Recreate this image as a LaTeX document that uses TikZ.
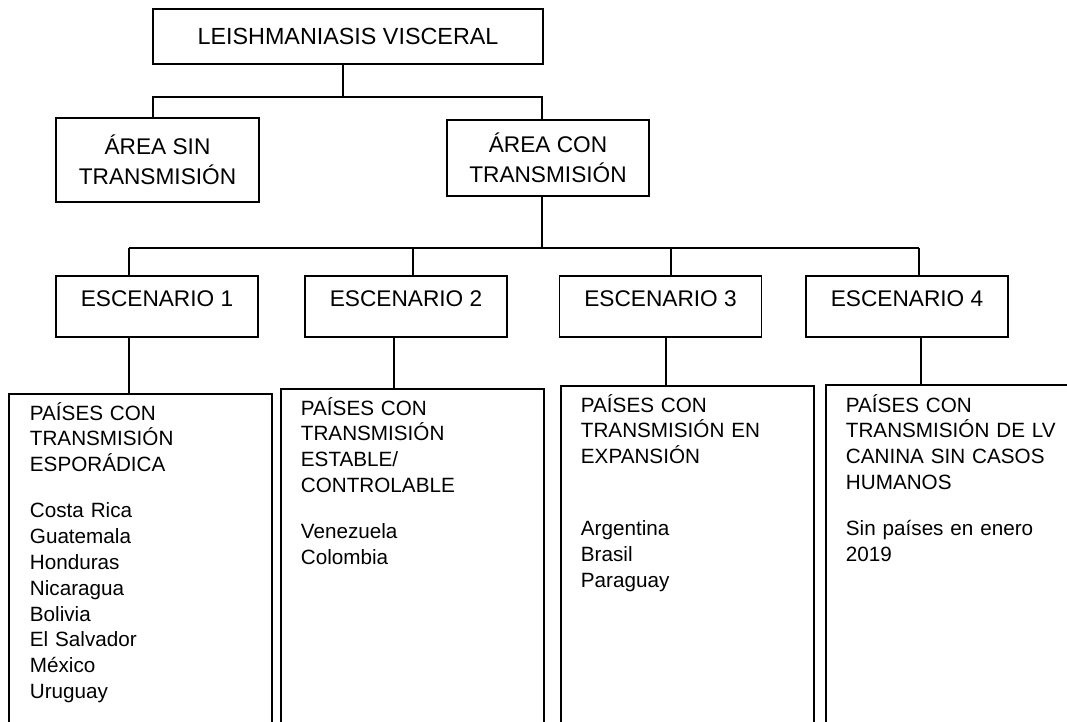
\documentclass[tikz,border=0pt]{standalone}
\usepackage{fontspec}
\setmainfont{Liberation Sans}
\begin{document}
\begin{tikzpicture}[
    x=0.75pt, y=-0.75pt,
    line width=1.4pt,
    box/.style={rectangle, draw, line width=1.4pt, inner sep=0pt, align=center, font=\fontsize{17}{22.5}\selectfont},
    titlebox/.style={box, minimum width=292.5pt, minimum height=41.25pt},
    areabox/.style={box, minimum width=152pt},
    scenebox/.style={box, minimum width=151.5pt, minimum height=45.75pt, text height=12pt, text depth=12pt},
    listbox/.style={rectangle, draw, line width=1.4pt, anchor=north west, minimum height=270pt},
    listtext/.style={anchor=base west, inner sep=0pt, text width=175pt, align=left, font=\fontsize{15.5}{19.4}\selectfont}
]

\clip (0,0) rectangle (1067,721);

\node[titlebox, font=\fontsize{17.5}{22.5}\selectfont] (top) at (348,36.5) {LEISHMANIASIS VISCERAL};

\node[areabox, minimum height=63pt] (sin) at (157.5,160) {ÁREA SIN\\TRANSMISIÓN};
\node[areabox, minimum height=57pt] (con) at (548,158) {ÁREA CON\\TRANSMISIÓN};

\node[scenebox] (esc1) at (157,306.5) {ESCENARIO 1};
\node[scenebox] (esc2) at (406,306.5) {ESCENARIO 2};
\node[scenebox] (esc3) at (660.5,306.5) {ESCENARIO 3};
\node[scenebox] (esc4) at (907,306.5) {ESCENARIO 4};

\node[listbox, minimum width=197pt] (list1) at (8,393) {};
\node[listbox, minimum width=197.25pt] (list2) at (280,388) {};
\node[listbox, minimum width=190pt] (list3) at (560,385) {};
\node[listbox, minimum width=200pt] (list4) at (825,384) {};

\node[listtext] (txt1) at (29,420) {PAÍSES CON\\TRANSMISIÓN\\ESPORÁDICA\\[15pt]
    Costa Rica\\Guatemala\\Honduras\\Nicaragua\\Bolivia\\El Salvador\\México\\Uruguay};
\node[listtext] (txt2) at (300,415) {PAÍSES CON\\TRANSMISIÓN\\ESTABLE/\\CONTROLABLE\\[15pt]
    Venezuela\\Colombia};
\node[listtext] (txt3) at (580,412) {PAÍSES CON\\TRANSMISIÓN EN\\EXPANSIÓN\\[34.5pt]
    Argentina\\Brasil\\Paraguay};
\node[listtext] (txt4) at (845,412) {PAÍSES CON\\TRANSMISIÓN DE LV\\CANINA SIN CASOS\\HUMANOS\\[15pt]
    Sin países en enero\\2019};

% first level
\coordinate (hubA) at (343,97);
\coordinate (dSin) at (153,97);
\coordinate (dCon) at (542,97);
\draw (top.south -| hubA) -- (hubA);
\draw (dSin |- sin.north) -- (dSin) -- (dCon) -- (dCon |- con.north);

% scenarios
\coordinate (hubB) at (542,248);
\coordinate (d1) at (129,248);
\coordinate (d2) at (413,248);
\coordinate (d3) at (671,248);
\coordinate (d4) at (919,248);
\draw (con.south -| hubB) -- (hubB);
\draw (d1) -- (d4);

\coordinate (e1) at (129,337);
\coordinate (e2) at (394,337);
\coordinate (e3) at (666,337);
\coordinate (e4) at (921,337);
\foreach \i in {1,...,4} {
    \draw (d\i) -- (d\i |- esc\i.north);
    \draw (e\i |- esc\i.south) -- (e\i |- list\i.north);
}

\end{tikzpicture}
\end{document}
